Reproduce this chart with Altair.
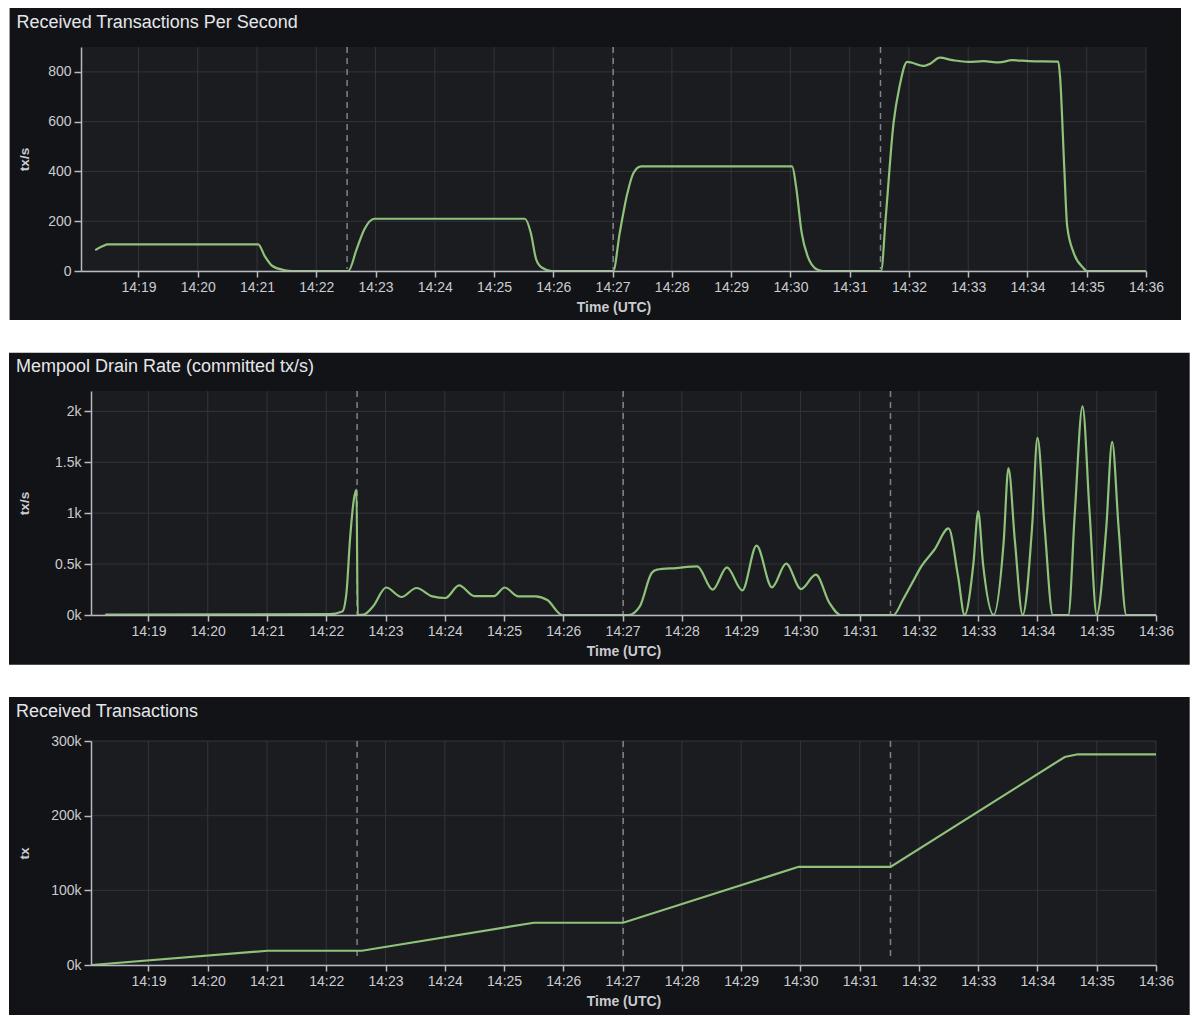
import altair as alt
import pandas as pd

# ---------------- data (time = minutes after 14:00 UTC) ----------------
rps_t = [18.27, 18.40, 18.48, 21.02, 21.13, 21.26, 21.45, 21.60, 22.54, 22.68, 22.81, 22.98,
         25.52, 25.62, 25.71, 25.81, 25.97, 27.01, 27.12, 27.25, 27.35, 27.48, 30.03, 30.095,
         30.19, 30.29, 30.45, 30.55, 31.53, 31.61, 31.74, 31.84, 31.97, 32.26, 32.36, 32.52,
         32.74, 33.00, 33.26, 33.52, 33.74, 34.03, 34.52, 34.55, 34.62, 34.67, 34.78, 34.94,
         35.00, 36.00]
rps_v = [84, 100, 107, 107, 60, 20, 4, 0, 0, 87, 167, 210,
         210, 153, 47, 13, 0, 0, 153, 313, 393, 420, 420, 340,
         153, 60, 6, 0, 0, 220, 594, 740, 840, 824, 833, 857,
         847, 840, 843, 838, 847, 843, 841, 780, 420, 180, 73, 13,
         0, 0]

drain_t = [18.27, 22.05, 22.27, 22.34, 22.40, 22.465, 22.51, 22.53, 22.63, 22.79, 23.01,
           23.27, 23.52, 23.79, 24.01, 24.24, 24.50, 24.83, 25.01, 25.24, 25.53, 25.73, 25.98,
           27.10, 27.29, 27.49, 27.58, 27.90, 28.26, 28.52, 28.76, 29.02, 29.26, 29.52, 29.76,
           30.01, 30.26, 30.49, 30.68, 31.57, 31.73, 31.90, 32.04, 32.26, 32.50, 32.66, 32.77,
           32.92, 33.00, 33.08, 33.26, 33.43, 33.51, 33.62, 33.75, 33.91, 34.00, 34.12, 34.26,
           34.52, 34.63, 34.76, 34.88, 35.00, 35.16, 35.26, 35.37, 35.50, 36.00]
drain_v = [5, 8, 35, 216, 740, 1133, 1231, 0, 5, 85, 270,
           177, 265, 183, 167, 290, 186, 186, 270, 183, 183, 147, 0,
           0, 85, 412, 445, 461, 477, 249, 468, 242, 681, 272, 504,
           255, 396, 118, 0, 0, 150, 330, 477, 641, 850, 380, 0,
           510, 1018, 510, 0, 720, 1444, 720, 0, 870, 1739, 870, 0,
           0, 1000, 2049, 1000, 0, 850, 1700, 850, 0, 0]

total_t = [18.04, 21.01, 22.60, 25.50, 27.01, 29.97, 31.52, 34.46, 34.68, 36.00]
total_v = [0, 19100, 19100, 56600, 56600, 131500, 131500, 278600, 282200, 282200]

annot_t = [22.52, 27.01, 31.52]
x_ticks = list(range(19, 37))
rps_yticks = [0, 200, 400, 600, 800]
drain_yticks = [0, 500, 1000, 1500, 2000]
total_yticks = [0, 100000, 200000, 300000]

# ---------------- styling ----------------
FONT = "Liberation Sans"
PANEL_BG = "#121316"
PLOT_BG = "#1b1c20"
GRID = "#33343a"
AXIS = "#b9babf"
TEXT = "#cbccd1"
GREEN = "#8fc27a"
ANNOT = "#7d838e"
W, H = 1065, 224
XDOM = [18.03, 36]


def panel(title, t, v, ytitle, ydom, yticks, ylabel, left, right, top, bottom,
          title_dy, interp, annot_end):
    xs = alt.Scale(domain=XDOM, nice=False, zero=False)
    ys = alt.Scale(domain=ydom, nice=False, zero=False)
    one = pd.DataFrame({"a": [0]})

    xaxis = alt.Axis(values=x_ticks, labelExpr="'14:' + datum.value",
                     title="Time (UTC)", titleFontWeight="bold", titleFontSize=14,
                     titleColor=TEXT, titlePadding=6.5, labelFontSize=14,
                     labelColor=TEXT, labelFont=FONT, titleFont=FONT,
                     tickSize=6, tickColor=AXIS, tickWidth=1.5, labelPadding=3,
                     domainColor=AXIS, domainWidth=1.5, labelFlush=False,
                     labelOverlap=False, grid=False, zindex=1)
    yaxis = alt.Axis(values=yticks, labelExpr=ylabel, title=ytitle,
                     titleFontWeight="bold", titleFontSize=13.5, titleColor=TEXT,
                     titleX=-(left - 15), titleY=H / 2, titleAngle=270,
                     titleAlign="center", titleBaseline="middle",
                     labelFontSize=14, labelColor=TEXT, labelFont=FONT,
                     titleFont=FONT, tickSize=7, tickColor=AXIS, tickWidth=1.5,
                     labelPadding=3, domainColor=AXIS, domainWidth=1.5,
                     labelOverlap=False, grid=False, zindex=1)

    bg = alt.Chart(one).mark_rect(color=PANEL_BG).encode(
        x=alt.value(-left), x2=alt.value(W + right),
        y=alt.value(-top), y2=alt.value(H + bottom))
    plotbg = alt.Chart(one).mark_rect(color=PLOT_BG).encode(
        x=alt.value(0), x2=alt.value(W), y=alt.value(0), y2=alt.value(H))
    xgrid = alt.Chart(pd.DataFrame({"t": x_ticks})).mark_rule(
        color=GRID, strokeWidth=1).encode(
        x=alt.X("t:Q", scale=xs, axis=xaxis), y=alt.value(0), y2=alt.value(H))
    ygrid = alt.Chart(pd.DataFrame({"v": yticks})).mark_rule(
        color=GRID, strokeWidth=1).encode(
        y=alt.Y("v:Q", scale=ys, axis=yaxis), x=alt.value(0), x2=alt.value(W))
    annot = alt.Chart(pd.DataFrame({"t": annot_t})).mark_rule(
        color=ANNOT, strokeWidth=1.5, strokeDash=[6, 5]).encode(
        x=alt.X("t:Q", scale=xs, axis=xaxis), y=alt.value(0), y2=alt.value(annot_end))
    line = alt.Chart(pd.DataFrame({"t": t, "v": v})).mark_line(
        color=GREEN, strokeWidth=2.2, interpolate=interp).encode(
        x=alt.X("t:Q", scale=xs, axis=xaxis),
        y=alt.Y("v:Q", scale=ys, axis=yaxis))

    ttl = alt.Chart(one).mark_text(
        text=title, align="left", baseline="middle", fontSize=18,
        font=FONT, color="#e5e6ea").encode(
        x=alt.value(-left + 7), y=alt.value(title_dy))

    return alt.layer(bg, plotbg, xgrid, ygrid, annot, line, ttl).properties(
        width=W, height=H)


def spacer():
    return alt.Chart(pd.DataFrame({"a": [0]})).mark_point(size=0, opacity=0).encode(
        x=alt.value(0), y=alt.value(0)).properties(width=1, height=1)


p1 = panel("Received Transactions Per Second", rps_t, rps_v, "tx/s", [0, 900],
           rps_yticks, "datum.value", 71.4, 35, 39, 49, -24, "monotone", H - 2)
p2 = panel("Mempool Drain Rate (committed tx/s)", drain_t, drain_v, "tx/s",
           [0, 2200], drain_yticks, "datum.value / 1000 + 'k'", 82, 33.7, 38.3,
           49.7, -24.3, "monotone", H)
p3 = panel("Received Transactions", total_t, total_v, "tx", [0, 300000],
           total_yticks, "datum.value / 1000 + 'k'", 82, 33.7, 44, 50, -29,
           "linear", H - 7)

chart = alt.vconcat(
    alt.hconcat(spacer(), p1, spacing=0),
    alt.hconcat(spacer(), p2, spacing=0),
    alt.hconcat(spacer(), p3, spacing=0),
    spacing=32,
).properties(padding=0, background="white").configure_view(stroke=None).configure_axis(
    grid=False)

chart.save("out.html", embed_options={"renderer": "svg", "actions": False})
